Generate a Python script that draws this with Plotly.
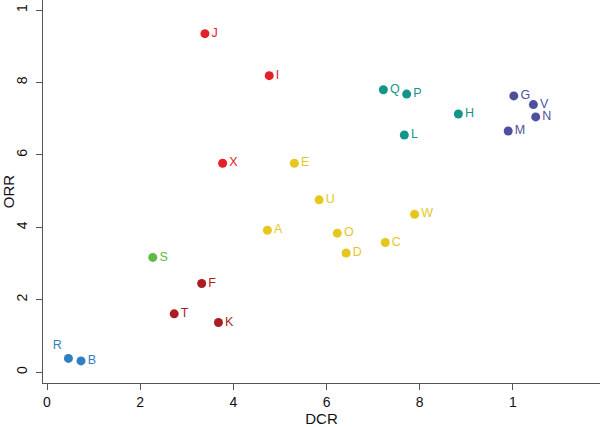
import plotly.graph_objects as go

# values
red_lbl = ["J", "I", "X"]
red_x = [3.39, 4.77, 3.77]
red_y = [9.35, 8.19, 5.77]

teal_lbl = ["Q", "P", "H", "L"]
teal_x = [7.22, 7.72, 8.83, 7.67]
teal_y = [7.80, 7.68, 7.13, 6.55]

purple_lbl = ["G", "V", "N", "M"]
purple_x = [10.02, 10.44, 10.49, 9.90]
purple_y = [7.63, 7.39, 7.05, 6.66]

yellow_lbl = ["E", "U", "A", "O", "D", "C", "W"]
yellow_x = [5.31, 5.84, 4.73, 6.23, 6.42, 7.26, 7.89]
yellow_y = [5.77, 4.76, 3.92, 3.84, 3.29, 3.58, 4.36]

green_lbl = ["S"]
green_x = [2.27]
green_y = [3.17]

darkred_lbl = ["F", "T", "K"]
darkred_x = [3.32, 2.73, 3.68]
darkred_y = [2.45, 1.61, 1.37]

blue_lbl = ["R", "B"]
blue_x = [0.46, 0.73]
blue_y = [0.38, 0.31]

tick_vals = [0, 2, 4, 6, 8, 10]
tick_text = ["0", "2", "4", "6", "8", "1"]

groups = [
    (red_lbl, red_x, red_y, "#e32129"),
    (teal_lbl, teal_x, teal_y, "#13958a"),
    (purple_lbl, purple_x, purple_y, "#4f4fa0"),
    (yellow_lbl, yellow_x, yellow_y, "#e5c71f"),
    (green_lbl, green_x, green_y, "#5fba46"),
    (darkred_lbl, darkred_x, darkred_y, "#aa1e23"),
    (blue_lbl, blue_x, blue_y, "#2f7fc2"),
]

fig = go.Figure()
for lbl, xs, ys, col in groups:
    pos = ["top left" if t == "R" else "middle right" for t in lbl]
    fig.add_trace(go.Scatter(
        x=xs, y=ys, text=lbl,
        mode="markers+text", textposition=pos,
        marker=dict(size=9, color=col),
        textfont=dict(color=col, size=12.5, family="Liberation Sans, Arial"),
        showlegend=False, cliponaxis=False,
    ))

fig.update_layout(
    width=600, height=427,
    margin=dict(l=43, r=0, t=0, b=44),
    plot_bgcolor="white", paper_bgcolor="white",
    font=dict(family="Liberation Sans, Arial", size=14, color="#111111"),
)
fig.update_xaxes(
    range=[-0.086, 11.87], tickvals=tick_vals, ticktext=tick_text, automargin=False,
    showgrid=False, zeroline=False, showline=True, linecolor="#555555", linewidth=1,
    ticks="outside", ticklen=6, tickcolor="#555555",
    title=dict(text="DCR", font=dict(size=15), standoff=2),
)
fig.update_yaxes(
    range=[-0.30, 10.28], tickvals=tick_vals, ticktext=tick_text, tickangle=-90,
    automargin=False, ticklabelstandoff=3,
    showgrid=False, zeroline=False, showline=True, linecolor="#555555", linewidth=1,
    ticks="outside", ticklen=6, tickcolor="#555555",
    title=dict(text="ORR", font=dict(size=15), standoff=0),
)

# page body has a default margin; drop it so the figure fills the window
fig.write_html("out.html", config={"displayModeBar": False},
               post_script="document.body.style.margin='0';")
